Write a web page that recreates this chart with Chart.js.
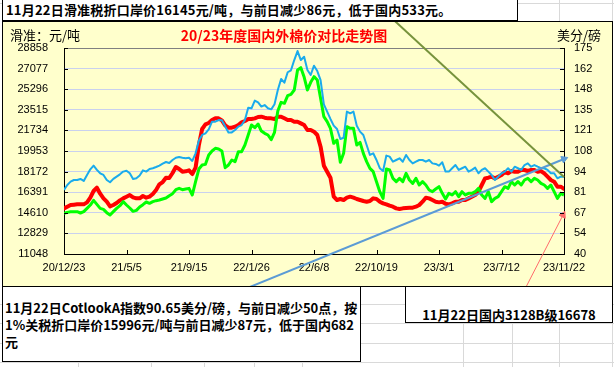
<!DOCTYPE html>
<html lang="zh">
<head>
<meta charset="UTF-8">
<title>20/23年度国内外棉价对比走势图</title>
<script src="https://cdn.jsdelivr.net/npm/chart.js"></script>
<style>
    html, body { margin: 0; padding: 0; }
    body { width: 614px; height: 367px; position: relative; overflow: hidden; background: #fff;
           font-family: "Noto Sans CJK SC", sans-serif; }
    .gl { position: absolute; background: #d9d9d9; }
    .box { position: absolute; background: #fff; border: 1px solid #000; font-weight: 700; font-size: 13px; color: #000; }
    #topBox { left: 2px; top: -1px; width: 511px; height: 20px; line-height: 20px; padding-left: 3px; box-sizing: content-box; white-space: nowrap; letter-spacing: 0.2px; }
    #chartBox { position: absolute; left: 2px; top: 21px; width: 609px; height: 264px; border: 1px solid #000; background: #ffffcc; }
    #chartBox canvas { position: absolute; left: 0; top: 0; }
    .lbl { position: absolute; font-size: 13px; line-height: 16px; color: #000; white-space: nowrap; }
    #title { position: absolute; left: 0; top: 26px; width: 568px; text-align: center; color: #ff0000; font-weight: 700; font-size: 14px; line-height: 18px; }
    #boxL { left: 2px; top: 286px; width: 355px; height: 74px; padding-left: 2px; line-height: 17px; display: flex; flex-direction: column; justify-content: center; }
    #boxR { left: 405px; top: 286px; width: 206px; height: 15px; padding-top: 20px; line-height: 16px; text-align: center; white-space: nowrap; }
</style>
</head>
<body>
<div id="sheet"></div>
<div id="chartBox"><canvas id="chart" width="609" height="264"></canvas></div>
<div class="box" id="topBox">11月22日滑准税折口岸价16145元/吨，与前日减少86元，低于国内533元。</div>
<div class="lbl" style="left:10px; top:27px;">滑准：元/吨</div>
<div id="title">20/23年度国内外棉价对比走势图</div>
<div class="lbl" style="left:557px; top:27px;">美分/磅</div>
<div class="box" id="boxL">
    <div>11月22日CotlookA指数90.65美分/磅，与前日减少50点，按</div>
    <div>1%关税折口岸价15996元/吨与前日减少87元，低于国内682</div>
    <div>元</div>
</div>
<div class="box" id="boxR">11月22日国内3128B级16678</div>

<script>
    // weekly samples from 20/12/23 to 23/11/22
    const sampleDays = 7;
    const xTickLabels = ['20/12/23', '21/5/5', '21/9/15', '22/1/26', '22/6/8', '22/10/19', '23/3/1', '23/7/12', '23/11/22'];
    const leftTickLabels = ['11048', '12829', '14610', '16391', '18172', '19953', '21734', '23515', '25296', '27077', '28858'];
    const rightTickLabels = ['40', '54', '67', '81', '94', '108', '121', '135', '148', '162', '175'];

    // 国内3128B (元/吨)
    const domestic = [
        14995, 15140, 15283, 15312, 15341, 15341, 15341, 15514, 15917, 16494,
        16782, 16264, 15860, 15572, 15168, 15283, 15456, 15687, 15860, 16004,
        16148, 15946, 15860, 15860, 16062, 15917, 16004, 16235, 16580, 17070,
        17272, 17647, 17618, 18050, 18569, 18396, 18166, 18194, 18281,
        17964, 18511, 20471, 21854, 22258, 22373, 22632, 22777, 22777, 22604,
        22172, 21970, 21970, 22056, 22201, 22431, 22546, 22719, 22719, 22777,
        22892, 22921, 22834, 22777, 22777, 22719, 22921, 22921, 22777, 22632,
        22632, 22488, 22488, 22344, 22201, 21768,
        21768, 21624, 21336, 20327, 18684, 18166, 17646, 16004, 15716, 15802,
        15716, 15917, 16004, 15917, 15802, 15716, 15629, 15572, 15629, 15860,
        15802, 15572, 15427, 15341, 15226, 15140, 14995, 14938, 14995, 15024,
        15053, 15053, 15140, 15283, 15572, 15917, 15860, 15716,
        15572, 15514, 15572, 15399, 15341, 15427, 15572, 15572, 15716, 15716,
        15860, 16004, 16148, 16436, 17013, 17589, 17646, 17733, 17589, 17733,
        17877, 18137, 18021, 18223, 18166, 18166, 18310, 18310, 18223, 18310,
        18310, 18166, 18223, 18021, 17733, 17445, 17301, 16868, 16868, 16678
    ];

    // 滑准税折口岸价 (元/吨)
    const slidingTax = [
        14563, 14649, 14707, 14707, 14707, 14592, 14707, 14995, 15283, 15687,
        15341, 14995, 14909, 14621, 14419, 14707, 14995, 15226, 15572, 15283,
        15024, 14736, 14822, 15110, 15312, 15543, 15428, 15572, 15658, 15716,
        15802, 15889, 16091, 16264, 16609, 16724, 16609, 16667, 16724,
        16148, 17301, 18396, 18741, 18799, 19606, 19952, 20183, 20125, 19952,
        18511, 18741, 19174, 19030, 19893, 19893, 20471, 21336, 22200, 21970,
        22287, 21681, 21480, 21336, 20932, 21566, 23411, 24160, 24074, 24736,
        24851, 25226, 26955, 27157, 26350, 25226,
        25889, 26379, 26091, 24505, 22921, 22488, 21912, 20615, 20903, 18972,
        19750, 22056, 21912, 21912, 20471, 20701, 19750, 19030, 18454, 18166,
        17301, 16436, 15860, 18396, 18310, 17589, 17301, 17589, 17301, 18021,
        17445, 17157, 17589, 17013, 17301, 17013, 16580, 16436,
        16667, 16868, 16293, 15802, 16293, 16148, 16436, 16004, 16436, 16148,
        16293, 16293, 16436, 16724, 16148, 15860, 16436, 15572, 15860, 16004,
        16436, 16868, 16724, 17301, 17013, 17301, 17013, 17445, 17589, 17301,
        17589, 17445, 17157, 17013, 16724, 17013, 16436, 15860, 16293, 16145
    ];

    // CotlookA (美分/磅)
    const cotlookA = [
        82.0, 85.2, 87.4, 88.5, 88.5, 89.2, 87.9, 91.8, 95.5, 97.9,
        95.1, 92.9, 91.8, 88.5, 87.0, 89.2, 90.7, 92.2, 94.0, 94.6,
        92.9, 89.2, 89.6, 91.4, 94.8, 94.0, 95.7, 96.2, 97.0, 97.9,
        99.2, 100.3, 99.6, 101.6, 103.1, 103.6, 103.1, 102.7, 103.1,
        101.0, 106.0, 114.3, 118.0, 119.1, 121.7, 126.7, 126.7, 127.8, 127.6,
        123.5, 119.7, 119.7, 121.3, 123.5, 124.5, 127.8, 135.9, 135.5, 140.5,
        139.4, 136.6, 137.6, 135.5, 134.8, 138.1, 147.5, 154.7, 152.3, 159.1,
        160.4, 167.1, 173.0, 167.1, 169.3, 160.6,
        157.3, 163.4, 159.9, 154.0, 138.1, 133.3, 128.5, 124.1, 121.9, 115.4,
        116.2, 133.3, 132.2, 133.3, 124.1, 120.2, 118.0, 111.4, 104.9, 106.0,
        101.6, 96.2, 94.4, 104.5, 103.8, 100.5, 101.6, 102.7, 100.5, 104.9,
        101.6, 99.4, 100.5, 101.6, 101.6, 100.5, 101.6, 99.4,
        99.0, 97.9, 100.1, 94.0, 94.0, 96.2, 98.3, 95.1, 96.2, 97.2,
        94.0, 95.1, 96.6, 92.9, 95.1, 96.2, 94.0, 91.8, 88.5, 90.7,
        92.9, 94.0, 96.2, 94.0, 97.2, 96.2, 95.1, 98.3, 99.4, 97.2,
        98.3, 97.2, 96.2, 96.2, 95.1, 92.9, 92.9, 89.6, 90.7, 90.65
    ];

    // callout lines from the text boxes (day, 元/吨)
    const calloutGreen = [{ x: 704, y: 31192 }, { x: 1064, y: 17705 }];
    const calloutBlue = [{ x: 385, y: 8022 }, { x: 1064, y: 19261 }];
    const calloutRed = [{ x: 981, y: 8022 }, { x: 1062, y: 14420 }];

    // spreadsheet cell lines behind everything
    const colX = [78, 151, 204, 254, 302, 463, 512, 559, 612];
    const rowY = [3, 304, 323, 343, 362];
    const sheet = document.getElementById('sheet');
    colX.forEach(x => { const d = document.createElement('div'); d.className = 'gl'; d.style.cssText = `left:${x}px;top:0;width:1px;height:367px`; sheet.appendChild(d); });
    rowY.forEach(y => { const d = document.createElement('div'); d.className = 'gl'; d.style.cssText = `left:0;top:${y}px;width:614px;height:1px`; sheet.appendChild(d); });

    const toXY = arr => arr.map((v, i) => ({ x: i * sampleDays, y: v }));
    const yMin = +leftTickLabels[0], yMax = +leftTickLabels[leftTickLabels.length - 1];
    const y2Min = +rightTickLabels[0], y2Max = +rightTickLabels[rightTickLabels.length - 1];
    const xMax = (domestic.length - 1) * sampleDays;

    // Excel style tick marks pointing into the plot
    const insideTicks = {
        id: 'insideTicks',
        afterDatasetsDraw(chart) {
            const { ctx, chartArea: a, scales } = chart;
            ctx.save();
            ctx.strokeStyle = '#000';
            ctx.lineWidth = 1;
            ctx.beginPath();
            scales.y.ticks.forEach(t => { const p = Math.round(scales.y.getPixelForValue(t.value)) + 0.5; ctx.moveTo(a.left, p); ctx.lineTo(a.left + 4, p); });
            scales.y2.ticks.forEach(t => { const p = Math.round(scales.y2.getPixelForValue(t.value)) + 0.5; ctx.moveTo(a.right, p); ctx.lineTo(a.right - 4, p); });
            scales.x.ticks.forEach(t => { const p = Math.round(scales.x.getPixelForValue(t.value)) + 0.5; ctx.moveTo(p, a.bottom); ctx.lineTo(p, a.bottom - 4); });
            ctx.stroke();
            ctx.restore();
        }
    };

    const tickFont = { family: 'Liberation Sans', size: 11 };
    const callout = (data, color, width, rot) => ({
        data, borderColor: color, backgroundColor: color, borderWidth: width, yAxisID: 'y', clip: false,
        pointRadius: [0, rot === null ? 0 : 4], pointStyle: 'triangle', pointRotation: [0, rot || 0], pointBorderWidth: 1
    });

    new Chart(document.getElementById('chart').getContext('2d'), {
        type: 'line',
        data: {
            datasets: [
                callout(calloutGreen, '#77933c', 2, null),
                callout(calloutBlue, '#5b9bd5', 2, 68),
                callout(calloutRed, '#ff6b6b', 1, 27),
                { data: toXY(cotlookA), yAxisID: 'y2', borderColor: '#1aabec', borderWidth: 2, pointRadius: 0, borderJoinStyle: 'round' },
                { data: toXY(slidingTax), yAxisID: 'y', borderColor: '#00ff00', borderWidth: 3, pointRadius: 0, borderJoinStyle: 'round' },
                { data: toXY(domestic), yAxisID: 'y', borderColor: '#ff0000', borderWidth: 4, pointRadius: 0, borderJoinStyle: 'round', borderCapStyle: 'round' }
            ]
        },
        options: {
            responsive: false,
            animation: false,
            layout: { padding: { left: 0, right: 8, top: 26, bottom: 6 } },
            plugins: { legend: { display: false }, tooltip: { enabled: false } },
            scales: {
                x: {
                    type: 'linear', min: 0, max: xMax,
                    afterFit: s => { s.height = 26; },
                    grid: { display: false, drawTicks: false },
                    border: { display: true, color: '#000', width: 1 },
                    ticks: { stepSize: xMax / (xTickLabels.length - 1), autoSkip: false, maxRotation: 0, padding: 7, color: '#000', font: tickFont,
                             callback: (v, i) => xTickLabels[i] }
                },
                y: {
                    position: 'left', min: yMin, max: yMax,
                    afterFit: s => { s.width = 61; },
                    grid: { drawTicks: false, color: c => c.index === leftTickLabels.length - 1 ? '#808080' : '#c9d1ee' },
                    border: { display: true, color: '#000', width: 1 },
                    ticks: { stepSize: (yMax - yMin) / (leftTickLabels.length - 1), padding: 16, color: '#000', font: tickFont,
                             callback: (v, i) => leftTickLabels[i] }
                },
                y2: {
                    position: 'right', min: y2Min, max: y2Max,
                    afterFit: s => { s.width = 40; },
                    grid: { display: false, drawTicks: false },
                    border: { display: true, color: '#000', width: 1 },
                    ticks: { stepSize: (y2Max - y2Min) / (rightTickLabels.length - 1), padding: 10, color: '#000', font: tickFont,
                             callback: (v, i) => rightTickLabels[i] }
                }
            }
        },
        plugins: [insideTicks]
    });
</script>
</body>
</html>
